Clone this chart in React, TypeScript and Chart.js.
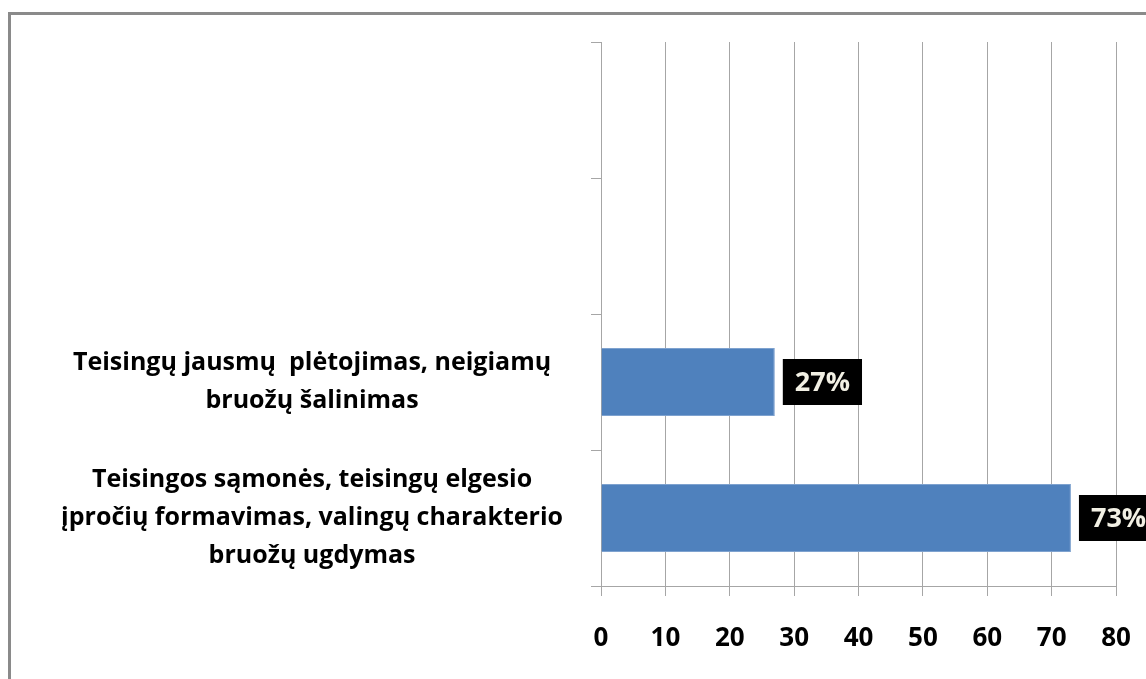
import React, { useEffect, useRef } from "react";
import { Chart, registerables } from "chart.js";

Chart.register(...registerables);

const categories: (string | string[])[] = [
  "",
  "",
  ["Teisingų jausmų  plėtojimas, neigiamų", "bruožų šalinimas"],
  ["Teisingos sąmonės, teisingų elgesio", "įpročių formavimas, valingų charakterio", "bruožų ugdymas"],
];
const values: (number | null)[] = [null, null, 27, 73];
const valueLabels: string[] = ["", "", "27%", "73%"];
const xTicks: number[] = [0, 10, 20, 30, 40, 50, 60, 70, 80];

const FONT = "'Open Sans', 'Noto Sans', sans-serif";

const framePlugin = {
  id: "frame",
  beforeDraw(chart: any) {
    const ctx = chart.ctx;
    ctx.save();
    ctx.fillStyle = "#ffffff";
    ctx.fillRect(0, 0, chart.width, chart.height);
    ctx.fillStyle = "#8a8a8a";
    ctx.fillRect(8, 12, 3, chart.height);
    ctx.fillRect(8, 12, chart.width, 3);
    ctx.restore();
  },
};

const labelPlugin = {
  id: "valueBoxes",
  afterDatasetsDraw(chart: any) {
    const ctx = chart.ctx;
    const meta = chart.getDatasetMeta(0);
    ctx.save();
    ctx.font = `bold 27px ${FONT}`;
    ctx.textBaseline = "middle";
    ctx.textAlign = "left";
    meta.data.forEach((el: any, i: number) => {
      const v = values[i];
      if (v === null || v === undefined) return;
      const txt = valueLabels[i];
      const w = ctx.measureText(txt).width;
      const bx = el.x + 8;
      const bh = 46;
      const by = el.y - bh / 2;
      const bw = w + 24;
      ctx.fillStyle = "#000000";
      ctx.fillRect(bx, by, bw, bh);
      ctx.fillStyle = "#f2f0e4";
      ctx.fillText(txt, bx + 12, el.y + 1);
    });
    ctx.restore();
  },
};

export default function App() {
  const ref = useRef<HTMLCanvasElement | null>(null);
  useEffect(() => {
    if (!ref.current) return;
    const chart = new Chart(ref.current, {
      type: "bar",
      data: {
        labels: categories,
        datasets: [
          {
            data: values,
            backgroundColor: "#4f81bd",
            borderColor: "#7ea2cf",
            borderWidth: 1,
            barPercentage: 0.5,
            categoryPercentage: 1,
          },
        ],
      },
      options: {
        indexAxis: "y",
        responsive: false,
        animation: false,
        layout: { padding: { top: 42, left: 0, right: 184, bottom: 0 } },
        plugins: { legend: { display: false }, tooltip: { enabled: false } },
        scales: {
          x: {
            min: 0,
            max: 80,
            afterBuildTicks(scale: any) {
              scale.ticks = xTicks.map((v) => ({ value: v }));
            },
            afterFit(scale: any) {
              scale.height = 93;
              scale.paddingLeft = 0;
              scale.paddingRight = 0;
            },
            grid: {
              color: "#a6a6a6",
              lineWidth: 1,
              tickLength: 10,
              drawTicks: true,
            },
            border: { color: "#a6a6a6", width: 1 },
            ticks: {
              color: "#000000",
              padding: 27,
              font: { family: FONT, size: 26, weight: "bold" },
            },
          },
          y: {
            afterFit(scale: any) {
              scale.width = 601;
              scale.paddingTop = 0;
              scale.paddingBottom = 0;
            },
            grid: {
              drawOnChartArea: false,
              drawTicks: true,
              tickLength: 10,
              color: "#a6a6a6",
              offset: true,
            },
            border: { color: "#a6a6a6", width: 1 },
            ticks: {
              color: "#000000",
              crossAlign: "center",
              padding: 28,
              font: { family: FONT, size: 25, weight: "bold", lineHeight: 1.52 },
            },
          },
        },
      },
      plugins: [framePlugin, labelPlugin],
    });
    return () => chart.destroy();
  }, []);
  return (
    <div style={{ position: "fixed", left: 0, top: 0, width: 1146, height: 679, overflow: "hidden" }}>
      <canvas ref={ref} width={1300} height={679} style={{ position: "absolute", left: 0, top: 0, width: 1300, height: 679 }} />
    </div>
  );
}
